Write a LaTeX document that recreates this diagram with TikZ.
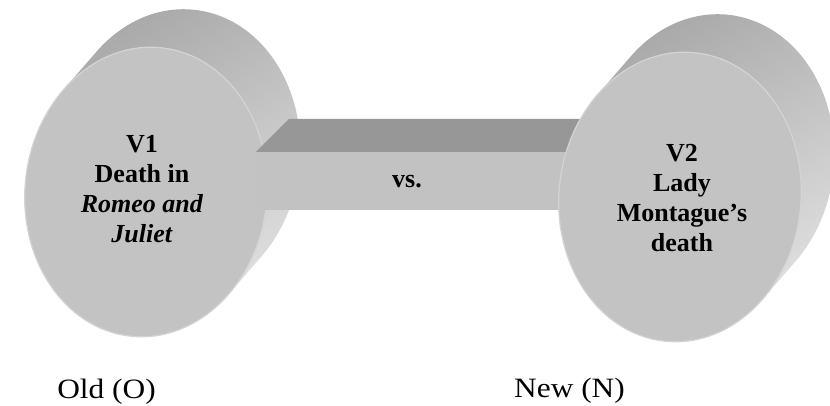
\documentclass[tikz,border=0pt]{standalone}
\usepackage{fontspec}
\setmainfont{Liberation Serif}
\definecolor{faceC}{RGB}{195,195,195}
\definecolor{rimC}{RGB}{212,212,212}
\definecolor{sideDark}{RGB}{168,168,168}
\definecolor{sideLight}{RGB}{226,226,226}
\definecolor{barTopC}{RGB}{151,151,151}
\definecolor{barFrontC}{RGB}{194,194,194}
\tikzset{
  facefill/.style={fill=faceC, draw=rimC, line width=1.2pt},
  sideshade/.style={top color=sideDark, bottom color=sideLight, shading angle=30},
  lbl/.style={font=\fontsize{26}{30}\selectfont\bfseries, align=center, text=black},
  captext/.style={font=\fontsize{28}{32}\selectfont, anchor=base, inner sep=0pt},
}
\newcommand\drawcyl[2]{%
  \begin{scope}[shift={(#1,#2)}, rotate=-6]
    \shade[sideshade]
      (0,0) ellipse[x radius=121, y radius=145]
      (28.85,41.24) ellipse[x radius=121, y radius=145]
      ({121*cos(140)},{145*sin(140)}) -- ({121*cos(-40)},{145*sin(-40)})
      -- ++(28.85,41.24) -- ({121*cos(140)+28.85},{145*sin(140)+41.24}) -- cycle;
    \path[facefill] (0,0) ellipse[x radius=121, y radius=145];
  \end{scope}}
\begin{document}
\begin{tikzpicture}[x=1pt,y=1pt]
\useasboundingbox (0,0) rectangle (830,406);
% left cylinder
\drawcyl{146}{214}
% bar
\fill[barTopC] (256,254) -- (590,254) -- (623,287) -- (289,287) -- cycle;
\fill[barFrontC] (256,196) rectangle (590,254);
% right cylinder
\drawcyl{680}{209}
% texts
\node[lbl] (v1) at (142,217) {V1\\Death in\\\textit{Romeo and}\\\textit{Juliet}};
\node[lbl] (v2) at (682,207.5) {V2\\Lady\\Montague’s\\death};
\node[lbl, anchor=base] (vs) at (407,218) {vs.};
\node[captext] (old) at (106.5,7) {\scalebox{1.12}[1]{Old (O)}};
\node[captext] (new) at (569.5,8) {\scalebox{1.12}[1]{New (N)}};
\end{tikzpicture}
\end{document}
